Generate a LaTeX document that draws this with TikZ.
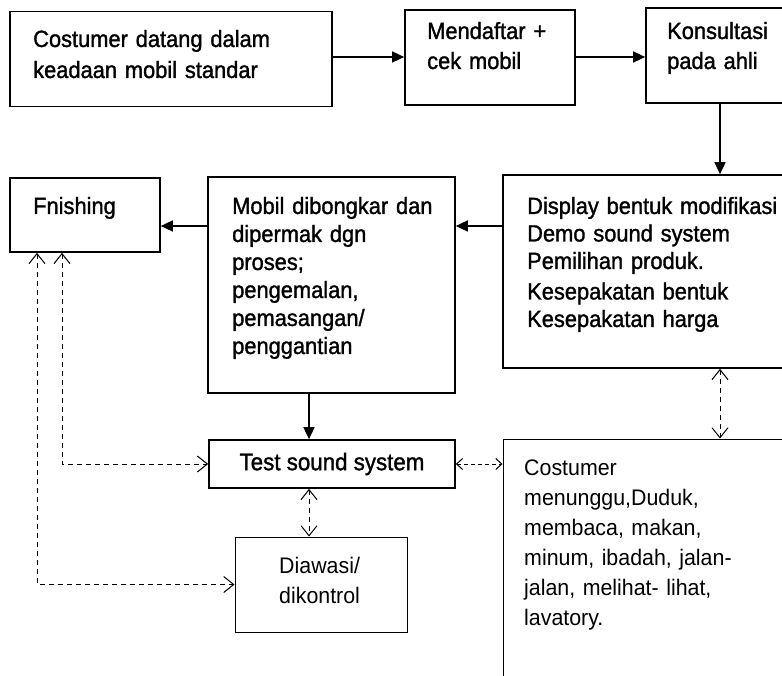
\documentclass[tikz,border=0pt]{standalone}
\usepackage{fontspec}
\setmainfont{Liberation Sans}
\newfontfamily\boxfont[FakeStretch=0.93, FakeBold=1.3]{Liberation Sans}
\newfontfamily\lightfont[FakeStretch=0.95]{Liberation Sans}
\usetikzlibrary{arrows.meta}

\begin{document}
\begin{tikzpicture}[x=1pt,y=-1pt,
  box/.style={draw, line width=1.7pt, inner sep=0pt, rectangle},
  thinbox/.style={draw, line width=1pt, inner sep=0pt, rectangle},
  txt/.style={inner sep=0pt, anchor=base west, text width=300pt, align=left},
  flow/.style={line width=1.6pt, -{Triangle[length=12pt,width=11pt]}},
  link/.style={line width=1pt, dash pattern=on 5pt off 4pt,
    {Straight Barb[length=10pt,width=16pt]}-{Straight Barb[length=10pt,width=16pt]}},
  shortlink/.style={line width=1pt, dash pattern=on 4pt off 3pt,
    {Straight Barb[length=6pt,width=11pt]}-{Straight Barb[length=6pt,width=11pt]}}
]
\useasboundingbox (0,0) rectangle (782,676);
\fill[white] (0,0) rectangle (782,676);
\clip (0,0) rectangle (782,676);

% boxes
\node[box, minimum width=322pt, minimum height=95pt] (b1) at (171,59) {};
\node[box, minimum width=170pt, minimum height=95pt] (b2) at (490,57.5) {};
\node[box, minimum width=154pt, minimum height=95pt] (b3) at (723,55.5) {};
\node[box, minimum width=297pt, minimum height=193pt] (b4) at (651.5,271.5) {};
\node[box, minimum width=247pt, minimum height=216pt] (b5) at (331.5,285) {};
\node[box, minimum width=150pt, minimum height=74pt] (b6) at (85,215) {};
\node[box, minimum width=246pt, minimum height=48pt,
      font=\boxfont\fontsize{24}{26}\selectfont] (b7) at (332,464) {Test sound system};
\node[thinbox, minimum width=297pt, minimum height=261pt] (b8) at (651.5,569.5) {};
\node[thinbox, minimum width=172pt, minimum height=95pt] (b9) at (321,584.5) {};

% texts
\node[txt, font=\boxfont\fontsize{23.5}{31}\selectfont] (t1) at (33,47)
  {Costumer datang dalam\\keadaan mobil standar};
\node[txt, font=\boxfont\fontsize{23.5}{30}\selectfont] (t2) at (427,39)
  {Mendaftar +\\cek mobil};
\node[txt, font=\boxfont\fontsize{23.5}{30}\selectfont] (t3) at (667,39)
  {Konsultasi\\pada ahli};
\node[txt, font=\boxfont\fontsize{23.5}{27.5}\selectfont] (t4) at (527,214)
  {Display bentuk modifikasi\\Demo sound system\\Pemilihan produk.\\[3pt]Kesepakatan bentuk\\Kesepakatan harga};
\node[txt, font=\boxfont\fontsize{23.5}{28}\selectfont] (t5) at (232,214)
  {Mobil dibongkar dan\\dipermak dgn\\proses;\\pengemalan,\\pemasangan/\\penggantian};
\node[txt, font=\boxfont\fontsize{23.5}{28}\selectfont] (t6) at (33,214) {Fnishing};
\node[txt, font=\lightfont\fontsize{22.5}{30}\selectfont] (t8) at (524,475)
  {Costumer\\menunggu,Duduk,\\membaca, makan,\\minum, ibadah, jalan-\\jalan, melihat- lihat,\\lavatory.};
\node[txt, font=\lightfont\fontsize{22.5}{30}\selectfont] (t9) at (279,573)
  {Diawasi/\\dikontrol};

% guide positions for connectors
\coordinate (rowA) at (0,57);
\coordinate (rowB) at (0,226);
\coordinate (colA) at (720,0);
\coordinate (colB) at (309,0);
\coordinate (colC) at (62,0);
\coordinate (colD) at (37,0);

% solid flow
\draw[flow] (b1.east |- rowA) -- (b2.west |- rowA);
\draw[flow] (b2.east |- rowA) -- (b3.west |- rowA);
\draw[flow] (b3.south -| colA) -- (b4.north -| colA);
\draw[flow] (b4.west |- rowB) -- (b5.east |- rowB);
\draw[flow] (b5.west |- rowB) -- (b6.east |- rowB);
\draw[flow] (b5.south -| colB) -- (b7.north -| colB);

% dashed two-way links
\draw[shortlink] (b7.east) -- (b8.west |- b7.east);
\draw[link] (b4.south -| colA) -- (b8.north -| colA);
\draw[link] (b7.south -| colB) -- (b9.north -| colB);
\draw[link] (b6.south -| colC) |- (b7.west);
\draw[link] (b6.south -| colD) |- (b9.west);
\end{tikzpicture}
\end{document}
